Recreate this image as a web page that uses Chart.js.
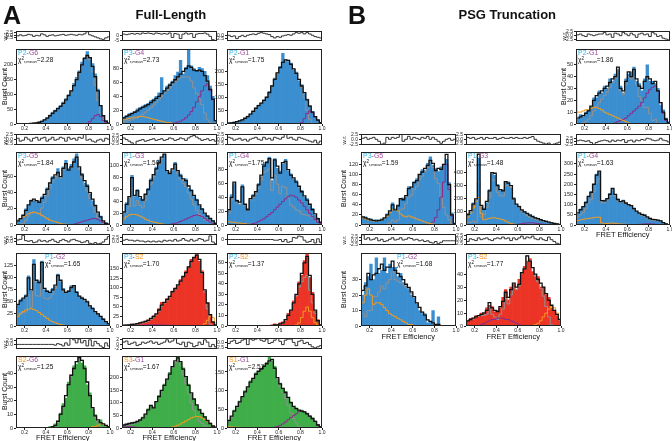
<!DOCTYPE html>
<html>
<head>
<meta charset="utf-8">
<script src="https://cdn.jsdelivr.net/npm/chart.js@4.4.1/dist/chart.umd.min.js"></script>
<style>
  body { margin: 0; background: #fff; }
  #fig { position: relative; width: 672px; height: 441px; overflow: hidden; font-family: "Liberation Sans", Arial, sans-serif; }
  #fig canvas { position: absolute; }
  .t { position: absolute; white-space: nowrap; color: #111; line-height: 1; }
  .t sup { font-size: 70%; vertical-align: 2px; line-height: 0; }
  .t sub { font-size: 65%; vertical-align: -1px; line-height: 0; }
</style>
</head>
<body>
<div id="fig"></div>
<script>
"use strict";

// histogram bins: 36 bins of 0.025 starting at E = 0.1
const binStart = 0.1;
const binWidth = 0.025;

// ---------- A: Full-Length ----------
// P2-G6
const flP2g6Bars = [0,0,0,0,1,1, 2,3,5,6,10,16, 22,30,40,47,55,62, 74,86,100,112,138,158, 180,210,225,245,226,205, 170,118,62,28,12,4];
const flP2g6Fit = [0,0,0,0,1,1, 2,3,4,6,9,14, 20,28,36,44,52,60, 70,82,96,112,130,150, 175,200,222,232,225,195, 160,112,62,28,10,3];
const flP2g6Gray = [0,0,0,0,1,1, 2,3,4,6,9,14, 20,28,36,44,52,60, 70,82,96,112,130,150, 175,200,222,230,217,177, 132,80,37,16,6,2];
const flP2g6Purple = [0,0,0,0,0,0, 0,0,0,0,0,0, 0,0,0,0,0,0, 0,0,0,0,0,0, 0,0,0,2,8,18, 28,32,25,12,4,1];
const flP2g6Res = [0,-0.5,0.5,-0.5,0,1, 0.5,-1,0,-0.5,1.5,0.5, -1,0,0.5,-0.5,0,0.5, 1,0,0.5,1,0.5,0, 1,0.5,1.5,3.5,0.5,-0.5, -1.5,-2.5,-3.5,-4,-2.5,-1.5];
const flP2g6Ticks = [0,50,100,150,200];

// P3-G4
const flP3g4Bars = [8,10,12,15,16,18, 22,24,26,28,30,34, 36,40,45,67,48,55, 58,62,70,75,92,72, 82,110,84,80,76,82, 80,76,70,55,40,5];
const flP3g4Fit = [8,9,11,13,15,17, 19,22,24,26,28,31, 34,37,40,44,48,52, 56,60,64,68,72,76, 80,84,82,78,77,78, 76,70,62,50,36,5];
const flP3g4Gray = [2,3,4,5,6,8, 9,11,14,17,20,23, 27,31,35,40,44,48, 52,57,61,64,67,68, 68,68,62,52,44,36, 28,16,6,2,1,0];
const flP3g4Orange = [6,6,7,8,9,10, 10,11,11,10,9,8, 7,6,5,4,3,2, 2,1,1,0,0,0, 0,0,0,0,0,0, 0,0,0,0,0,0];
const flP3g4Purple = [0,0,0,0,0,0, 0,0,0,0,0,0, 0,0,0,0,0,0, 0,0,2,3,4,6, 9,13,18,24,32,40, 48,55,58,48,35,5];
const flP3g4Res = [0.5,1,0.5,1,1.5,1, 1.5,1,2,1.5,2,1.5, 1,2,1.5,1,1.5,1, 2,-2,1.5,1,-3,1, 2,1,1.5,-2,1,1.5, 1.5,2,1,-1,-4,-5];
const flP3g4Ticks = [0,20,40,60,80];

// P2-G1
const flP2g1Bars = [3,4,5,7,8,14, 18,20,30,36,50,58, 72,78,92,100,125,140, 175,190,220,270,240,238, 232,205,198,165,150,115, 95,70,48,26,18,6];
const flP2g1Fit = [2,3,4,6,9,12, 16,22,28,38,48,60, 70,80,90,102,120,145, 170,195,215,235,245,243, 228,210,193,170,145,120, 92,68,45,28,15,5];
const flP2g1Gray = [2,3,4,6,9,12, 16,22,28,38,48,60, 70,80,90,102,120,145, 170,195,215,235,245,243, 228,210,193,170,140,100, 52,18,3,1,0,0];
const flP2g1Purple = [0,0,0,0,0,0, 0,0,0,0,0,0, 0,0,0,0,0,0, 0,0,0,0,0,0, 0,0,0,0,5,20, 40,50,42,27,15,5];
const flP2g1Res = [-0.5,0,-1,-0.5,-2.5,-1, 0,-1,0,0.5,1,0.5, 1.5,2,1.5,1,0.5,-1, -2,-1,-1.5,-0.5,0,0.5, 0,1,2,1.5,2,1, 2,1,0,-1,-1.5,-2];
const flP2g1Ticks = [0,50,100,150,200];

// P3-G5
const flP3g5Bars = [4,6,7,13,20,24, 31,30,28,30,35,36, 46,50,60,60,70,58, 72,80,70,75,82,88, 70,64,52,50,38,30, 25,14,11,4,3,1];
const flP3g5Fit = [3,5,8,12,18,25, 30,32,30,28,33,38, 44,52,58,62,65,60, 70,76,68,72,78,84, 72,62,55,48,40,32, 24,16,10,5,2,1];
const flP3g5Gray = [0,0,1,2,6,11, 15,16,15,14,21,28, 36,46,53,58,62,58, 69,75,68,72,77,82, 69,58,50,42,33,24, 16,9,5,2,1,1];
const flP3g5Orange = [4,6,8,10,12,14, 15,16,15,14,12,10, 8,6,5,4,3,2, 1,1,0,0,0,0, 0,0,0,0,0,0, 0,0,0,0,0,0];
const flP3g5Purple = [0,0,0,0,0,0, 0,0,0,0,0,0, 0,0,0,0,0,0, 0,0,0,0,1,2, 3,4,5,6,7,8, 8,7,5,3,1,0];
const flP3g5Res = [0,0.5,-1,-0.5,1,0, -1,0.5,1,-0.5,0.5,1, -1,0,1,-0.5,0,1, 0.5,-1,1,0,0.5,-0.5, 1,0.5,2.5,-0.5,0,-1, -1.5,-0.5,0,-1,0.5,0];
const flP3g5Ticks = [0,20,40,60];

// P1-G3
const flP1g3Bars = [12,20,38,46,84,48, 60,45,44,50,62,78, 82,98,110,112,118,90, 90,92,106,90,86,75, 78,62,60,48,44,32, 28,18,16,10,8,3];
const flP1g3Fit = [10,22,35,48,80,50, 58,48,42,52,60,75, 85,95,105,115,120,92, 87,95,103,92,83,78, 75,66,58,50,42,34, 27,20,15,11,7,3];
const flP1g3Gray = [4,12,21,31,62,32, 41,33,29,42,52,69, 80,91,102,113,119,92, 86,93,100,88,77,70, 65,54,44,34,25,18, 13,9,7,6,4,2];
const flP1g3Orange = [6,10,14,17,18,18, 17,15,13,10,8,6, 5,4,3,2,1,0, 0,0,0,0,0,0, 0,0,0,0,0,0, 0,0,0,0,0,0];
const flP1g3Purple = [0,0,0,0,0,0, 0,0,0,0,0,0, 0,0,0,0,0,0, 1,2,3,4,6,8, 10,12,14,16,17,16, 14,11,8,5,3,1];
const flP1g3Res = [0.5,1,0,-1,-2,-3, -1,-0.5,0,-1,-0.5,0, 0.5,-0.5,0,0.5,-0.5,0, 1,0.5,-0.5,0,1,0.5, -0.5,1,2,2.5,1.5,0.5, -0.5,0,0.5,-0.5,0,-1];
const flP1g3Ticks = [0,20,40,60,80,100];

// P1-G4
const flP1g4Bars = [16,20,44,60,36,30, 58,28,24,36,44,46, 60,70,88,92,98,64, 96,82,78,88,95,78, 74,66,64,54,50,40, 38,28,24,14,10,4];
const flP1g4Fit = [15,22,40,62,35,33, 55,30,22,38,42,48, 58,72,85,90,96,68, 94,85,75,90,92,80, 72,68,62,56,48,42, 36,30,22,16,9,4];
const flP1g4Gray = [10,17,36,58,32,30, 53,28,21,36,40,45, 53,65,76,78,81,50, 72,59,45,56,54,39, 29,26,22,20,16,15, 14,13,10,8,5,2];
const flP1g4Orange = [5,5,4,4,3,3, 2,2,1,1,0,0, 0,0,0,0,0,0, 0,0,0,0,0,0, 0,0,0,0,0,0, 0,0,0,0,0,0];
const flP1g4Purple = [0,0,0,0,0,0, 0,0,0,1,2,3, 5,7,9,12,15,18, 22,26,30,34,38,41, 43,42,40,36,32,27, 22,17,12,8,4,2];
const flP1g4Res = [0,1,0.5,-0.5,0,0.5, -0.5,0,-1,0,0.5,1, 0,-0.5,1,0,0.5,-0.5, 1,0.5,0,1,2.5,0.5, 1,0,-0.5,1,0.5,0, -0.5,-1,-1.5,-0.5,-2,-1];
const flP1g4Ticks = [0,20,40,60,80];

// P1-G2
const flP1g2Bars = [40,44,55,56,65,104, 72,138,92,94,135,75, 74,68,78,82,108,92, 78,68,74,84,82,72, 60,60,52,52,40,38, 28,26,18,15,8,5];
const flP1g2Fit = [38,45,52,58,62,100, 75,128,95,90,132,78, 72,70,75,85,105,95, 75,70,72,80,84,70, 62,58,55,50,42,36, 30,25,20,14,9,5];
const flP1g2Gray = [23,25,27,28,29,65, 39,94,63,62,108,58, 56,58,66,78,100,92, 73,69,72,80,84,70, 62,58,55,50,42,36, 30,25,20,14,9,5];
const flP1g2Orange = [15,20,25,30,33,35, 36,34,32,28,24,20, 16,12,9,7,5,3, 2,1,0,0,0,0, 0,0,0,0,0,0, 0,0,0,0,0,0];
const flP1g2Res = [2,1.5,2,5,1,0.5, 1,-0.5,0,1.5,0.5,1, 0,1,2,0.5,-0.5,1, 2,1,0,1.5,2,1, 0.5,-0.5,0,1,-1,-1.5, -0.5,-1.5,-1,0,2,4];
const flP1g2Ticks = [0,25,50,75,100,125];

// P3-S2
const flP3s2Bars = [1,1,3,2,5,4, 7,9,9,13,16,18, 27,30,46,62,60,72, 75,92,100,106,122,128, 145,152,175,178,190,170, 145,92,62,28,12,3];
const flP3s2Fit = [1,2,2,3,4,5, 6,8,10,12,15,20, 25,32,42,55,62,70, 78,90,98,108,118,130, 140,155,170,180,186,175, 140,95,60,30,10,3];
const flP3s2Gray = [1,2,2,3,3,4, 5,6,8,10,12,17, 22,29,39,52,60,68, 76,88,97,107,117,130, 140,155,170,180,186,175, 138,89,45,5,0,0];
const flP3s2Orange = [0,0,0,0,0,0, 0,0,0,0,0,0, 0,0,0,0,0,0, 0,0,0,0,0,0, 0,0,0,0,0,0, 2,6,15,25,22,8];
const flP3s2Purple = [0,0,0,0,1,1, 1,2,2,2,3,3, 3,3,3,3,2,2, 2,2,1,1,1,0, 0,0,0,0,0,0, 0,0,0,0,0,0];
const flP3s2Res = [1.5,1,1.5,1,1,0.5, 1,0.5,0.5,0,0.5,0, 0.5,0,0.5,0,1,0.5, 1,0.5,1.5,0.5,1,2, 1,0.5,1.5,0.5,1,2, 1.5,0.5,1,3.5,0,-1];
const flP3s2Ticks = [0,25,50,75,100,125,150];

// P2-S2
const flP2s2Bars = [0,0,0,0,0,0, 0,0,0,0,0,0, 0,0,0,0,0,1, 2,1,3,4,5,12, 14,24,28,42,48,62, 70,46,32,14,6,1];
const flP2s2Fit = [0,0,0,0,0,0, 0,0,0,0,0,0, 0,0,0,0,0,0, 1,1,2,3,6,10, 15,22,30,40,50,60, 66,48,30,15,5,1];
const flP2s2Gray = [0,0,0,0,0,0, 0,0,0,0,0,0, 0,0,0,0,0,0, 1,1,2,3,6,10, 15,22,29,37,42,46, 48,34,22,12,4,1];
const flP2s2Orange = [0,0,0,0,0,0, 0,0,0,0,0,0, 0,0,0,0,0,0, 0,0,0,0,0,0, 0,0,1,3,8,14, 18,14,8,3,1,0];
const flP2s2Res = [0,0,0,0,0,0, 0,0,0,0,0,0, 0,0,0,0,0,0, -0.5,-0.5,0,-1.5,0,-2, -1.5,1.5,1,2.5,2,-0.5, -2,-1.5,0,-2.5,0.5,-2];
const flP2s2Ticks = [0,10,20,30,40,50,60];

// S2-G6
const flS2g6Bars = [0,0,0,0,0,0, 0,0,0,0,0,0, 0,1,1,3,4,11, 18,22,34,38,46,47, 55,48,46,32,26,14, 10,5,6,2,2,1];
const flS2g6Fit = [0,0,0,0,0,0, 0,0,0,0,0,0, 0,0,1,2,5,10, 16,24,32,39,44,49, 52,50,44,34,24,15, 9,6,4,3,2,1];
const flS2g6Gray = [0,0,0,0,0,0, 0,0,0,0,0,0, 0,0,1,2,5,10, 16,24,32,39,44,49, 52,50,44,34,24,14, 8,4,1,0,0,0];
const flS2g6Orange = [0,0,0,0,0,0, 0,0,0,0,0,0, 0,0,0,0,0,0, 0,0,0,0,0,0, 0,0,0,0,0,1, 1,2,3,3,2,1];
const flS2g6Res = [0,0,0,0,0,0, 0,0,0,0,0,0, 0,0,0,-0.5,0.5,0, -1,1,-0.5,4,3,1, 3.5,1,2.5,-1,3,-1, 2,0.5,-1,-2,1,-1];
const flS2g6Ticks = [0,10,20,30,40];

// S3-G1
const flS3g1Bars = [12,10,16,17,22,20, 28,30,44,52,76,88, 84,102,130,148,175,190, 222,240,262,285,260,240, 200,175,135,118,90,75, 55,46,28,20,7,3];
const flS3g1Fit = [10,12,15,18,20,22, 26,32,40,55,72,90, 80,105,125,150,170,195, 215,245,268,280,265,235, 205,170,140,115,92,72, 58,44,30,18,8,3];
const flS3g1Gray = [4,5,8,12,15,18, 23,30,39,55,72,90, 80,105,125,150,170,195, 213,241,261,269,249,213, 177,136,100,71,46,27, 18,10,4,0,0,0];
const flS3g1Orange = [0,0,0,0,0,0, 0,0,0,0,0,0, 0,0,0,0,0,0, 2,4,7,11,16,22, 28,34,40,44,46,45, 40,34,26,18,8,3];
const flS3g1Purple = [6,7,7,6,5,4, 3,2,1,0,0,0, 0,0,0,0,0,0, 0,0,0,0,0,0, 0,0,0,0,0,0, 0,0,0,0,0,0];
const flS3g1Res = [2,1,1.5,0,0.5,1, -0.5,0,1,0.5,1,1.5, 0.5,1,0,0.5,1,2, 1,1.5,2.5,0.5,0,1, -1,1,0.5,-1,-0.5,1, 0,2,1,-1,0,-1];
const flS3g1Ticks = [0,50,100,150,200];

// S1-G1
const flS1g1Bars = [12,22,30,48,56,72, 82,100,108,126,130,148, 150,160,168,176,192,180, 165,130,120,104,98,80, 70,56,54,46,48,42, 40,30,28,16,9,3];
const flS1g1Fit = [10,20,32,45,58,70, 84,97,110,123,133,144, 152,158,165,172,180,184, 160,135,118,106,95,82, 68,58,52,48,45,43, 38,32,25,18,8,3];
const flS1g1Gray = [7,17,29,43,56,68, 83,96,109,123,133,144, 152,158,165,172,180,183, 158,131,111,95,79,60, 40,25,14,4,0,0, 0,0,0,0,0,0];
const flS1g1Orange = [3,3,3,2,2,2, 1,1,1,0,0,0, 0,0,0,0,0,0, 0,0,0,0,0,0, 0,0,0,0,0,0, 0,0,0,0,0,0];
const flS1g1Purple = [0,0,0,0,0,0, 0,0,0,0,0,0, 0,0,0,0,0,1, 2,4,7,11,16,22, 28,33,38,44,45,43, 38,32,25,18,8,3];
const flS1g1Res = [0,-0.5,0.5,1,-0.5,0, 1,1.5,-1,1.5,1,1.5, 2,1,0.5,1.5,-0.5,0, 1,2,0.5,-1,1,1.5, 1.5,0,-1.5,0.5,1,-0.5, 0,-1,-2,-2.5,-2,-1.5];
const flS1g1Ticks = [0,50,100,150];

// ---------- B: PSG Truncation ----------
// P2-G1
const psgP2g1Bars = [40,4,8,6,10,12, 14,22,22,28,26,32, 30,38,36,42,46,32, 26,38,42,44,48,36, 34,28,38,50,36,36, 34,30,16,12,5,2];
const psgP2g1Fit = [58,5,6,7,9,11, 15,20,24,26,28,30, 32,35,38,40,48,30, 28,36,44,40,46,38, 32,30,36,40,38,34, 36,28,18,10,4,1];
const psgP2g1Gray = [30,0,0,1,2,4, 7,11,15,18,21,24, 27,31,35,39,45,28, 25,33,40,38,40,33, 23,20,14,14,9,3, 4,0,0,0,0,0];
const psgP2g1Orange = [28,10,10,11,12,12, 13,14,14,13,12,10, 9,8,7,6,5,4, 3,2,1,0,0,0, 0,0,0,0,0,0, 0,0,0,0,0,0];
const psgP2g1Purple = [0,0,0,0,0,0, 0,0,0,0,0,0, 0,0,0,1,2,3, 4,5,7,9,11,13, 15,18,22,26,29,31, 32,28,18,9,3,1];
const psgP2g1Res = [1.5,0.5,1,0,-0.5,1, 0.5,0,0.5,1,1,2, 0.5,1,-1,1.5,1,0, 2,1,0,1.5,0.5,-1, 1,1.5,0.5,1,-0.5,2, 1,-0.5,0,-1.5,-2,-2.5];
const psgP2g1Ticks = [0,10,20,30,40,50];

// P3-G5
const psgP3g5Bars = [20,15,16,11,12,8, 10,8,12,12,22,26, 44,28,40,50,54,56, 76,72,86,92,98,110, 108,122,135,118,112,106, 115,118,130,84,24,3];
const psgP3g5Fit = [18,16,14,12,10,9, 8,9,10,14,20,28, 40,30,38,52,50,58, 72,75,84,88,100,105, 112,118,128,122,108,112, 110,120,140,80,20,3];
const psgP3g5Gray = [3,2,2,2,1,1, 0,0,0,0,2,4, 10,6,10,30,32,42, 54,59,70,76,90,97, 106,114,123,114,92,82, 55,35,20,10,2,0];
const psgP3g5Orange = [15,14,12,10,9,8, 8,9,10,14,18,24, 30,32,28,22,18,16, 18,16,14,12,10,8, 6,4,3,2,1,0, 0,0,0,0,0,0];
const psgP3g5Purple = [0,0,0,0,0,0, 0,0,0,0,0,0, 0,0,0,0,0,0, 0,0,0,0,0,0, 0,0,2,6,15,30, 55,85,120,70,18,3];
const psgP3g5Res = [2,0.5,1,0,0.5,1, 0,-1,-2.5,-2,1,0, 1,0.5,1,2.5,-1,0, 1.5,0,1,0.5,0,1, 0.5,1.5,0,1,0,-1, -2,-1,0,0.5,-0.5,0];
const psgP3g5Ticks = [0,20,40,60,80,100,120];

// P1-G3
const psgP1g3Bars = [55,85,100,170,190,510, 140,130,170,270,390,380, 310,260,270,320,330,280, 210,150,145,110,105,85, 80,60,58,45,42,30, 30,20,18,10,9,4];
const psgP1g3Fit = [60,80,110,160,200,540, 150,120,180,260,400,395, 300,270,260,330,320,300, 200,160,140,115,100,88, 75,65,55,48,40,34, 28,22,16,12,8,4];
const psgP1g3Gray = [20,20,20,30,20,330, 60,80,135,210,345,340, 250,225,220,300,300,288, 192,153,132,105,86,72, 58,49,41,37,32,28, 24,20,15,12,8,4];
const psgP1g3Orange = [40,60,90,130,180,210, 90,40,45,50,55,55, 50,45,40,30,20,12, 6,3,1,0,0,0, 0,0,0,0,0,0, 0,0,0,0,0,0];
const psgP1g3Purple = [0,0,0,0,0,0, 0,0,0,0,0,0, 0,0,0,0,0,0, 2,4,7,10,14,16, 17,16,14,11,8,6, 4,2,1,0,0,0];
const psgP1g3Res = [0,1,0.5,1,0,0.5, 1,0,1,0.5,0.5,1, 0,0.5,1,0.5,0.5,1, 0.5,1,0.5,0.5,1,0.5, 1,1.5,0,-1,-1.5,-2, -2.5,-2,-2.8,-2.5,-2,-1.5];
const psgP1g3Ticks = [0,100,200,300,400];

// P1-G4
const psgP1g4Bars = [330,55,78,88,115,135, 165,195,250,260,115,122, 128,155,178,145,130,110, 122,104,102,92,84,64, 60,50,50,38,34,26, 28,22,22,10,7,2];
const psgP1g4Fit = [345,60,75,90,110,140, 160,200,245,265,120,118, 130,150,180,150,125,115, 118,108,100,95,80,68, 58,52,48,40,32,28, 26,24,20,12,6,2];
const psgP1g4Gray = [325,38,50,62,80,108, 126,164,207,227,110,110, 122,141,170,142,119,110, 114,105,98,94,79,66, 55,48,43,34,26,23, 22,21,18,11,6,2];
const psgP1g4Orange = [20,22,25,28,30,32, 34,36,38,38,10,8, 8,9,10,8,6,5, 4,3,2,1,0,0, 0,0,0,0,0,0, 0,0,0,0,0,0];
const psgP1g4Purple = [0,0,0,0,0,0, 0,0,0,0,0,0, 0,0,0,0,0,0, 0,0,0,0,1,2, 3,4,5,6,6,5, 4,3,2,1,0,0];
const psgP1g4Res = [0,0.5,1,0.5,0,0.5, -1,-2.5,-1,0,0.5,1, 0.5,-0.5,1,0,1,0.5, 1.5,-1,0.5,1,-0.5,1, 0.5,1.5,1,2.5,2,1, 0.5,1,2.5,1,0.5,-0.5];
const psgP1g4Ticks = [0,50,100,150,200,250,300];

// P1-G2
const psgP1g2Bars = [24,20,28,32,40,30, 44,34,36,44,34,40, 38,38,32,34,28,26, 24,20,18,14,10,8, 8,2,3,10,0,6, 0,0,0,0,0,0];
const psgP1g2Fit = [22,23,26,34,30,33, 34,37,40,36,38,38, 42,36,34,32,30,27, 25,22,19,15,12,9, 7,4,3,2,1,1, 0,0,0,0,0,0];
const psgP1g2Gray = [10,8,6,10,10,19, 19,22,26,24,28,30, 35,30,29,28,27,25, 24,21,19,15,12,9, 7,4,3,2,1,1, 0,0,0,0,0,0];
const psgP1g2Orange = [12,15,20,24,20,14, 15,15,14,12,10,8, 7,6,5,4,3,2, 1,1,0,0,0,0, 0,0,0,0,0,0, 0,0,0,0,0,0];
const psgP1g2Res = [1,4,1,2,0.5,1, 2,0,1,-0.5,0,1, 2,0.5,1,2,0.5,1, 2,1.5,0.5,1,0,0.5, -0.5,0,-1,-1.5,-0.5,-2, -1,0,0,0,0,0];
const psgP1g2Ticks = [0,10,20,30];

// P3-S2
const psgP3s2Bars = [16,4,6,5,8,7, 10,9,14,16,15,11, 12,14,22,28,20,30, 32,28,36,40,46,50, 52,42,38,38,30,30, 24,22,14,12,8,4];
const psgP3s2Fit = [3,4,5,6,7,8, 9,10,12,18,14,12, 11,15,19,26,22,28, 33,30,32,41,44,54, 50,45,40,36,33,30, 25,20,16,12,9,5];
const psgP3s2Gray = [3,4,5,6,7,8, 8,8,9,14,9,7, 5,9,13,21,17,24, 30,28,31,41,44,54, 50,45,39,34,29,23, 15,7,1,0,0,0];
const psgP3s2Orange = [0,0,0,0,0,0, 0,0,0,0,0,0, 0,0,0,0,0,0, 0,0,0,0,0,0, 0,0,1,2,4,7, 10,13,15,14,10,5];
const psgP3s2Purple = [0,0,0,0,0,0, 1,2,3,4,5,5, 6,6,6,5,5,4, 3,2,1,0,0,0, 0,0,0,0,0,0, 0,0,0,0,0,0];
const psgP3s2Res = [1,-1,0.5,0,-0.5,1, 0,0.5,1,0,-0.5,0.5, 1,0.5,1.5,0.5,1,-0.5, 1,0,1,2,0.5,1.5, 1,2,0.5,0,1,0, -0.5,1.5,0,-1,-2,-2.5];
const psgP3s2Ticks = [0,10,20,30,40];

// residual tick sets
const resTicksFull = [-2.5, 0, 2.5];
const resTicksUpper = [0, 2.5];
const resTicksLower = [-2.5, 0];

// ---------- layout ----------
const cols = { A1: [16, 110], A2: [122, 217], A3: [227, 322], B1: [361, 456], B2: [466, 561], B3: [576, 670] };
// [w.r. top, w.r. bottom, plot top, plot bottom]
const rows = [[28, 44, 48, 124], [131, 148, 151, 225], [231, 248, 252, 326], [335, 352, 355, 428]];

const BLUE = "#3b8fd0", RED = "#ec3426", GREEN = "#3fae49";

const panels = [
  { col: "A1", row: 0, tag: ["P2", "G6"], chi: "2.28", color: BLUE, bars: flP2g6Bars, fit: flP2g6Fit, gray: flP2g6Gray, orange: null, purple: flP2g6Purple, res: flP2g6Res, yMax: 253, yTicks: flP2g6Ticks, resRange: [-5.6, 4.3], resTicks: resTicksFull, resDigits: 1 },
  { col: "A2", row: 0, tag: ["P3", "G4"], chi: "2.73", color: BLUE, bars: flP3g4Bars, fit: flP3g4Fit, gray: flP3g4Gray, orange: flP3g4Orange, purple: flP3g4Purple, res: flP3g4Res, yMax: 108, yTicks: flP3g4Ticks, resRange: [-5.2, 3.8], resTicks: [-5, 0], resDigits: 0 },
  { col: "A3", row: 0, tag: ["P2", "G1"], chi: "1.75", color: BLUE, bars: flP2g1Bars, fit: flP2g1Fit, gray: flP2g1Gray, orange: null, purple: flP2g1Purple, res: flP2g1Res, yMax: 285, yTicks: flP2g1Ticks, resRange: [-4.3, 3.2], resTicks: resTicksLower, resDigits: 1 },
  { col: "A1", row: 1, tag: ["P3", "G5"], chi: "1.84", color: BLUE, bars: flP3g5Bars, fit: flP3g5Fit, gray: flP3g5Gray, orange: flP3g5Orange, purple: flP3g5Purple, res: flP3g5Res, yMax: 90, yTicks: flP3g5Ticks, resRange: [-3, 2.7], resTicks: resTicksFull, resDigits: 1 },
  { col: "A2", row: 1, tag: ["P1", "G3"], chi: "1.50", color: BLUE, bars: flP1g3Bars, fit: flP1g3Fit, gray: flP1g3Gray, orange: flP1g3Orange, purple: flP1g3Purple, res: flP1g3Res, yMax: 123, yTicks: flP1g3Ticks, resRange: [-3.3, 3.4], resTicks: resTicksFull, resDigits: 1 },
  { col: "A3", row: 1, tag: ["P1", "G4"], chi: "1.75", color: BLUE, bars: flP1g4Bars, fit: flP1g4Fit, gray: flP1g4Gray, orange: flP1g4Orange, purple: flP1g4Purple, res: flP1g4Res, yMax: 105, yTicks: flP1g4Ticks, resRange: [-3, 2.7], resTicks: resTicksFull, resDigits: 1 },
  { col: "A1", row: 2, tag: ["P1", "G2"], chi: "1.65", color: BLUE, bars: flP1g2Bars, fit: flP1g2Fit, gray: flP1g2Gray, orange: flP1g2Orange, purple: null, res: flP1g2Res, yMax: 151, yTicks: flP1g2Ticks, resRange: [-2.3, 6], resTicks: resTicksUpper, resDigits: 1, tagX: 29 },
  { col: "A2", row: 2, tag: ["P3", "S2"], chi: "1.70", color: RED, bars: flP3s2Bars, fit: flP3s2Fit, gray: flP3s2Gray, orange: flP3s2Orange, purple: flP3s2Purple, res: flP3s2Res, yMax: 191, yTicks: flP3s2Ticks, resRange: [-1.75, 4.6], resTicks: resTicksUpper, resDigits: 1 },
  { col: "A3", row: 2, tag: ["P2", "S2"], chi: "1.37", color: RED, bars: flP2s2Bars, fit: flP2s2Fit, gray: flP2s2Gray, orange: flP2s2Orange, purple: null, res: flP2s2Res, yMax: 69, yTicks: flP2s2Ticks, resRange: [-4, 4], resTicks: [0], resDigits: 0 },
  { col: "A1", row: 3, tag: ["S2", "G6"], chi: "1.25", color: GREEN, bars: flS2g6Bars, fit: flS2g6Fit, gray: flS2g6Gray, orange: flS2g6Orange, purple: null, res: flS2g6Res, yMax: 53, yTicks: flS2g6Ticks, resRange: [-3, 4.2], resTicks: resTicksUpper, resDigits: 1 },
  { col: "A2", row: 3, tag: ["S3", "G1"], chi: "1.67", color: GREEN, bars: flS3g1Bars, fit: flS3g1Fit, gray: flS3g1Gray, orange: flS3g1Orange, purple: flS3g1Purple, res: flS3g1Res, yMax: 286, yTicks: flS3g1Ticks, resRange: [-2, 2.8], resTicks: [-2, 0, 2], resDigits: 0 },
  { col: "A3", row: 3, tag: ["S1", "G1"], chi: "2.53", color: GREEN, bars: flS1g1Bars, fit: flS1g1Fit, gray: flS1g1Gray, orange: flS1g1Orange, purple: flS1g1Purple, res: flS1g1Res, yMax: 192, yTicks: flS1g1Ticks, resRange: [-3, 2], resTicks: resTicksLower, resDigits: 1 },
  { col: "B3", row: 0, tag: ["P2", "G1"], chi: "1.86", color: BLUE, bars: psgP2g1Bars, fit: psgP2g1Fit, gray: psgP2g1Gray, orange: psgP2g1Orange, purple: psgP2g1Purple, res: psgP2g1Res, yMax: 63, yTicks: psgP2g1Ticks, resRange: [-3.2, 2.8], resTicks: resTicksFull, resDigits: 1 },
  { col: "B1", row: 1, tag: ["P3", "G5"], chi: "1.59", color: BLUE, bars: psgP3g5Bars, fit: psgP3g5Fit, gray: psgP3g5Gray, orange: psgP3g5Orange, purple: psgP3g5Purple, res: psgP3g5Res, yMax: 144, yTicks: psgP3g5Ticks, resRange: [-2.9, 2.7], resTicks: resTicksFull, resDigits: 1 },
  { col: "B2", row: 1, tag: ["P1", "G3"], chi: "1.48", color: BLUE, bars: psgP1g3Bars, fit: psgP1g3Fit, gray: psgP1g3Gray, orange: psgP1g3Orange, purple: psgP1g3Purple, res: psgP1g3Res, yMax: 555, yTicks: psgP1g3Ticks, resRange: [-3, 2.8], resTicks: resTicksFull, resDigits: 1 },
  { col: "B3", row: 1, tag: ["P1", "G4"], chi: "1.63", color: BLUE, bars: psgP1g4Bars, fit: psgP1g4Fit, gray: psgP1g4Gray, orange: psgP1g4Orange, purple: psgP1g4Purple, res: psgP1g4Res, yMax: 357, yTicks: psgP1g4Ticks, resRange: [-3, 6], resTicks: resTicksFull, resDigits: 1 },
  { col: "B1", row: 2, tag: ["P1", "G2"], chi: "1.68", color: BLUE, bars: psgP1g2Bars, fit: psgP1g2Fit, gray: psgP1g2Gray, orange: psgP1g2Orange, purple: null, res: psgP1g2Res, yMax: 47, yTicks: psgP1g2Ticks, resRange: [-2.8, 4.5], resTicks: resTicksFull, resDigits: 1, tagX: 36 },
  { col: "B2", row: 2, tag: ["P3", "S2"], chi: "1.77", color: RED, bars: psgP3s2Bars, fit: psgP3s2Fit, gray: psgP3s2Gray, orange: psgP3s2Orange, purple: psgP3s2Purple, res: psgP3s2Res, yMax: 56, yTicks: psgP3s2Ticks, resRange: [-3, 3.2], resTicks: resTicksFull, resDigits: 1 },
];

const FONT = '"Liberation Sans", Arial, sans-serif';
const tickFont = { family: FONT, size: 5.5 };
const xTickFont = { family: FONT, size: 5 };
const tagColors = { P: "#33b7e6", G: "#a04c9e", S: "#f7931e" };
const xMin = 0.12, xMax = 1.0;
const fig = document.getElementById("fig");

// draws the full frame round the plot area
const boxPlugin = {
  id: "box",
  afterDraw(chart) {
    const a = chart.chartArea, c = chart.ctx;
    c.save();
    c.strokeStyle = "#222";
    c.lineWidth = 1;
    c.strokeRect(Math.round(a.left) + 0.5, Math.round(a.top) + 0.5, Math.round(a.right - a.left) - 1, Math.round(a.bottom - a.top) - 1);
    c.restore();
  }
};

function makeCanvas(left, top, w, h) {
  const c = document.createElement("canvas");
  c.width = w;
  c.height = h;
  c.style.left = left + "px";
  c.style.top = top + "px";
  c.style.width = w + "px";
  c.style.height = h + "px";
  fig.appendChild(c);
  return c;
}

function addText(html, left, top, size, extra) {
  const d = document.createElement("div");
  d.className = "t";
  d.innerHTML = html;
  d.style.left = left + "px";
  d.style.top = top + "px";
  d.style.fontSize = size + "px";
  if (extra) Object.assign(d.style, extra);
  fig.appendChild(d);
  return d;
}

function addCentered(html, cx, top, size, extra) {
  const d = addText(html, 0, top, size, extra);
  d.style.left = (cx - d.offsetWidth / 2) + "px";
  return d;
}

function addVertical(text, cx, cy, size) {
  const d = addText(text, 0, 0, size);
  const w = d.offsetWidth, h = d.offsetHeight;
  d.style.left = (cx - w / 2) + "px";
  d.style.top = (cy - h / 2) + "px";
  d.style.transform = "rotate(-90deg)";
}

// bin left edges plus the last right edge, so the stepped line covers each bin
function stepPoints(values) {
  const pts = values.map((v, i) => ({ x: binStart + i * binWidth, y: v }));
  pts.push({ x: binStart + values.length * binWidth, y: values[values.length - 1] });
  return pts;
}

function barPoints(values) {
  return values.map((v, i) => ({ x: binStart + (i + 0.5) * binWidth, y: v }));
}

function stepLine(values, color, width) {
  return { type: "line", data: stepPoints(values), borderColor: color, borderWidth: width, pointRadius: 0, stepped: true, fill: false };
}

function axisGrid() {
  return { display: true, drawOnChartArea: false, tickLength: 2, color: "#222", offset: false };
}

function drawMain(p) {
  const [x0, x1] = cols[p.col];
  const y0 = rows[p.row][2], y1 = rows[p.row][3];
  const padL = 24, padR = 5, padT = 3, padB = 8;
  const cv = makeCanvas(x0 - padL, y0 - padT, x1 - x0 + padL + padR, y1 - y0 + padT + padB);

  const datasets = [stepLine(p.fit, "#111", 1.3)];
  if (p.orange) datasets.push(stepLine(p.orange, "#f39a1e", 1));
  if (p.purple) datasets.push(stepLine(p.purple, "#8a2b8c", 1));
  if (p.gray) datasets.push(stepLine(p.gray, "#929292", 1));
  datasets.push({ type: "bar", data: barPoints(p.bars), backgroundColor: p.color, borderWidth: 0, barPercentage: 1, categoryPercentage: 1 });

  new Chart(cv, {
    type: "bar",
    data: { datasets: datasets },
    options: {
      responsive: false,
      animation: false,
      devicePixelRatio: 1,
      layout: { padding: { left: 0, right: padR, top: padT, bottom: 0 } },
      plugins: { legend: { display: false }, tooltip: { enabled: false } },
      scales: {
        x: {
          type: "linear", min: xMin, max: xMax, offset: false,
          afterFit(s) { s.height = padB; },
          ticks: { stepSize: 0.2, includeBounds: false, autoSkip: false, maxRotation: 0, padding: 0, font: xTickFont, color: "#222", callback: v => v.toFixed(1) },
          grid: axisGrid(),
          border: { display: false }
        },
        y: {
          min: 0, max: p.yMax,
          afterFit(s) { s.width = padL; },
          afterBuildTicks(s) { s.ticks = p.yTicks.map(v => ({ value: v })); },
          ticks: { autoSkip: false, padding: 1, font: tickFont, color: "#222", callback: v => String(v) },
          grid: axisGrid(),
          border: { display: false }
        }
      }
    },
    plugins: [boxPlugin]
  });

  // sample name and chi-square annotation
  const tx = x0 + (p.tagX || 2);
  const tagHtml = p.tag.map(t => '<span style="color:' + tagColors[t[0]] + '">' + t + "</span>").join('<span style="color:#555">-</span>');
  addText(tagHtml, tx, y0 + 1, 7);
  addText("&chi;<sup>2</sup><sub>r,mean</sub>=" + p.chi, tx, y0 + 8.5, 6.5);
}

function drawResidual(p) {
  const [x0, x1] = cols[p.col];
  const y0 = rows[p.row][0], y1 = rows[p.row][1];
  const padL = 24, padR = 5;
  const cv = makeCanvas(x0 - padL, y0 - 1, x1 - x0 + padL + padR, y1 - y0 + 2);

  new Chart(cv, {
    type: "line",
    data: { datasets: [stepLine(p.res, "#333", 1)] },
    options: {
      responsive: false,
      animation: false,
      devicePixelRatio: 1,
      layout: { padding: { left: 0, right: padR, top: 1, bottom: 1 } },
      plugins: { legend: { display: false }, tooltip: { enabled: false } },
      scales: {
        x: { type: "linear", min: xMin, max: xMax, display: false },
        y: {
          min: p.resRange[0], max: p.resRange[1],
          afterFit(s) { s.width = padL; },
          afterBuildTicks(s) { s.ticks = p.resTicks.map(v => ({ value: v })); },
          ticks: { autoSkip: false, padding: 1, font: { family: FONT, size: 5 }, color: "#222", callback: v => v.toFixed(p.resDigits) },
          grid: axisGrid(),
          border: { display: false }
        }
      }
    },
    plugins: [boxPlugin]
  });
}

panels.forEach(p => {
  drawResidual(p);
  drawMain(p);
});

// axis titles
const yTitled = [["A1", 0], ["A1", 1], ["A1", 2], ["A1", 3], ["B1", 1], ["B1", 2], ["B3", 0]];
const yTitleX = { A1: 4.5, B1: 343.5, B3: 563.5 };
yTitled.forEach(([c, r]) => {
  const rr = rows[r];
  addVertical("w.r.", yTitleX[c], (rr[0] + rr[1]) / 2, 6);
  addVertical("Burst Count", yTitleX[c], (rr[2] + rr[3]) / 2, 7);
});

const xTitled = [["A1", 3, 6], ["A2", 3, 6], ["A3", 3, 6], ["B1", 2, 7], ["B2", 2, 7], ["B3", 1, 6]];
xTitled.forEach(([c, r, gap]) => {
  const [x0, x1] = cols[c];
  addCentered("FRET Efficiency", (x0 + x1) / 2, rows[r][3] + gap, 7.5);
});

// figure titles
addText("A", 3, 3, 25, { fontWeight: "bold" });
addText("B", 348, 3, 25, { fontWeight: "bold" });
addCentered("Full-Length", 171, 8, 13, { fontWeight: "bold" });
addCentered("PSG Truncation", 507.5, 8, 13, { fontWeight: "bold" });
</script>
</body>
</html>
